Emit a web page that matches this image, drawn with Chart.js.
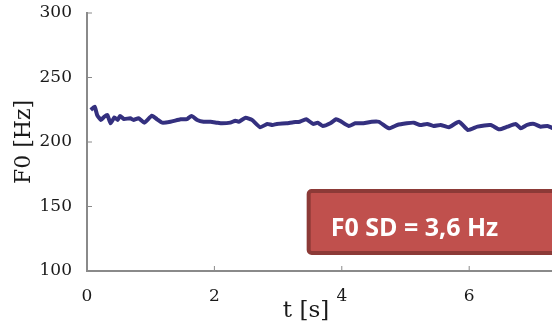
<!DOCTYPE html>
<html>
<head>
<meta charset="utf-8">
<script src="https://cdn.jsdelivr.net/npm/chart.js@4.4.1/dist/chart.umd.min.js"></script>
<style>
    html, body { margin: 0; padding: 0; background: #fff; }
    #wrap { width: 552px; height: 326px; position: relative; }
</style>
</head>
<body>
<div id="wrap"><canvas id="f0Chart"></canvas></div>
<script>
// --- datos ---
const times = [0.06, 0.12, 0.16, 0.22, 0.27, 0.32, 0.37, 0.43, 0.48, 0.52, 0.58, 0.68, 0.73, 0.81, 0.90,
    1.02, 1.10, 1.18, 1.31, 1.47, 1.57, 1.64, 1.73, 1.83, 1.94, 2.04, 2.12, 2.25, 2.33, 2.38, 2.49,
    2.59, 2.72, 2.83, 2.91, 2.98, 3.13, 3.24, 3.34, 3.44, 3.55, 3.62, 3.70, 3.82, 3.91, 3.97, 4.11,
    4.21, 4.34, 4.47, 4.58, 4.74, 4.87, 5.02, 5.13, 5.23, 5.34, 5.44, 5.55, 5.68, 5.84, 5.98, 6.13,
    6.34, 6.47, 6.60, 6.73, 6.81, 6.91, 7.02, 7.12, 7.23, 7.32];
const f0Values = [224.8, 227.4, 220.9, 217.1, 219.6, 220.9, 214.5, 219.1, 217.1, 220.2, 217.8, 218.4, 217.1, 218.4, 215.0,
    220.4, 217.6, 215.0, 215.7, 217.6, 217.8, 220.2, 217.1, 215.7, 215.7, 215.0, 214.5, 215.0, 216.5, 215.7, 218.8,
    217.1, 211.4, 214.0, 213.2, 214.0, 214.5, 215.3, 215.7, 217.6, 214.0, 215.0, 212.4, 214.5, 217.6, 216.5, 212.4,
    214.5, 214.5, 215.7, 215.7, 210.6, 213.2, 214.5, 215.0, 213.2, 214.0, 212.4, 213.2, 211.4, 215.7, 209.3, 211.9,
    213.2, 209.8, 211.9, 214.0, 210.6, 213.2, 214.0, 211.9, 212.4, 210.6];
const xTickValues = [0, 2, 4, 6];
const yTickValues = [100, 150, 200, 250, 300];
const xTitle = 't [s]';
const yTitle = 'F0 [Hz]';
const sdLabel = 'F0 SD = 3,6 Hz';
// caja del texto, en unidades de datos (t, Hz)
const boxT = [3.48, 7.6];
const boxHz = [162, 114];

const points = times.map((t, i) => ({ x: t, y: f0Values[i] }));
const axisGrey = '#8a8a8a';
const tickFont = { family: 'DejaVu Serif', size: 17 };

// marcas hacia dentro, título del eje x y recuadro rojo
const extras = {
    id: 'extras',
    afterDraw(chart) {
        const { ctx, scales: { x, y } } = chart;
        ctx.save();
        ctx.strokeStyle = axisGrey;
        ctx.lineWidth = 1;
        xTickValues.forEach(v => {
            const px = x.getPixelForValue(v);
            ctx.beginPath();
            ctx.moveTo(px, y.bottom);
            ctx.lineTo(px, y.bottom - 5);
            ctx.stroke();
        });
        yTickValues.forEach(v => {
            const py = y.getPixelForValue(v);
            ctx.beginPath();
            ctx.moveTo(x.left, py);
            ctx.lineTo(x.left + 5, py);
            ctx.stroke();
        });

        ctx.fillStyle = '#1a1a1a';
        ctx.font = '23px "DejaVu Serif"';
        ctx.textAlign = 'center';
        ctx.textBaseline = 'middle';
        ctx.fillText(xTitle, 306, 311);

        const bx = x.getPixelForValue(boxT[0]);
        const bx2 = x.getPixelForValue(boxT[1]);
        const by = y.getPixelForValue(boxHz[0]);
        const by2 = y.getPixelForValue(boxHz[1]);
        ctx.fillStyle = '#c0504d';
        ctx.strokeStyle = '#8c3a37';
        ctx.lineWidth = 4;
        ctx.beginPath();
        ctx.roundRect(bx, by, bx2 - bx, by2 - by, 3);
        ctx.fill();
        ctx.stroke();
        ctx.fillStyle = '#ffffff';
        ctx.font = 'bold 25px "Open Sans"';
        ctx.textAlign = 'left';
        ctx.textBaseline = 'alphabetic';
        ctx.fillText(sdLabel, bx + 22, by + 45);
        ctx.restore();
    }
};

new Chart(document.getElementById('f0Chart'), {
    type: 'line',
    data: {
        datasets: [{
            data: points,
            borderColor: '#34307f',
            borderWidth: 4,
            pointRadius: 0,
            tension: 0.15,
            fill: false
        }]
    },
    options: {
        responsive: true,
        maintainAspectRatio: false,
        animation: false,
        layout: { padding: 0 },
        plugins: { legend: { display: false }, tooltip: { enabled: false } },
        scales: {
            x: {
                type: 'linear',
                min: 0,
                max: 7.3,
                afterFit: s => { s.height = 55; s.paddingLeft = 0; s.paddingRight = 0; },
                afterBuildTicks: s => { s.ticks = xTickValues.map(v => ({ value: v })); },
                ticks: { font: tickFont, color: '#1a1a1a', padding: 7, maxRotation: 0 },
                grid: { display: false },
                border: { display: true, color: axisGrey, width: 2 }
            },
            y: {
                min: 100,
                max: 300,
                afterFit: s => { s.width = 87; s.paddingTop = 13; s.paddingBottom = 0; },
                afterBuildTicks: s => { s.ticks = yTickValues.map(v => ({ value: v })); },
                ticks: { font: tickFont, color: '#1a1a1a', padding: 7 },
                grid: { display: false },
                border: { display: true, color: axisGrey, width: 2 },
                title: {
                    display: true,
                    text: yTitle,
                    color: '#1a1a1a',
                    font: { family: 'DejaVu Serif', size: 22 },
                    padding: { top: 11, bottom: 0 }
                }
            }
        }
    },
    plugins: [extras]
});
</script>
</body>
</html>
